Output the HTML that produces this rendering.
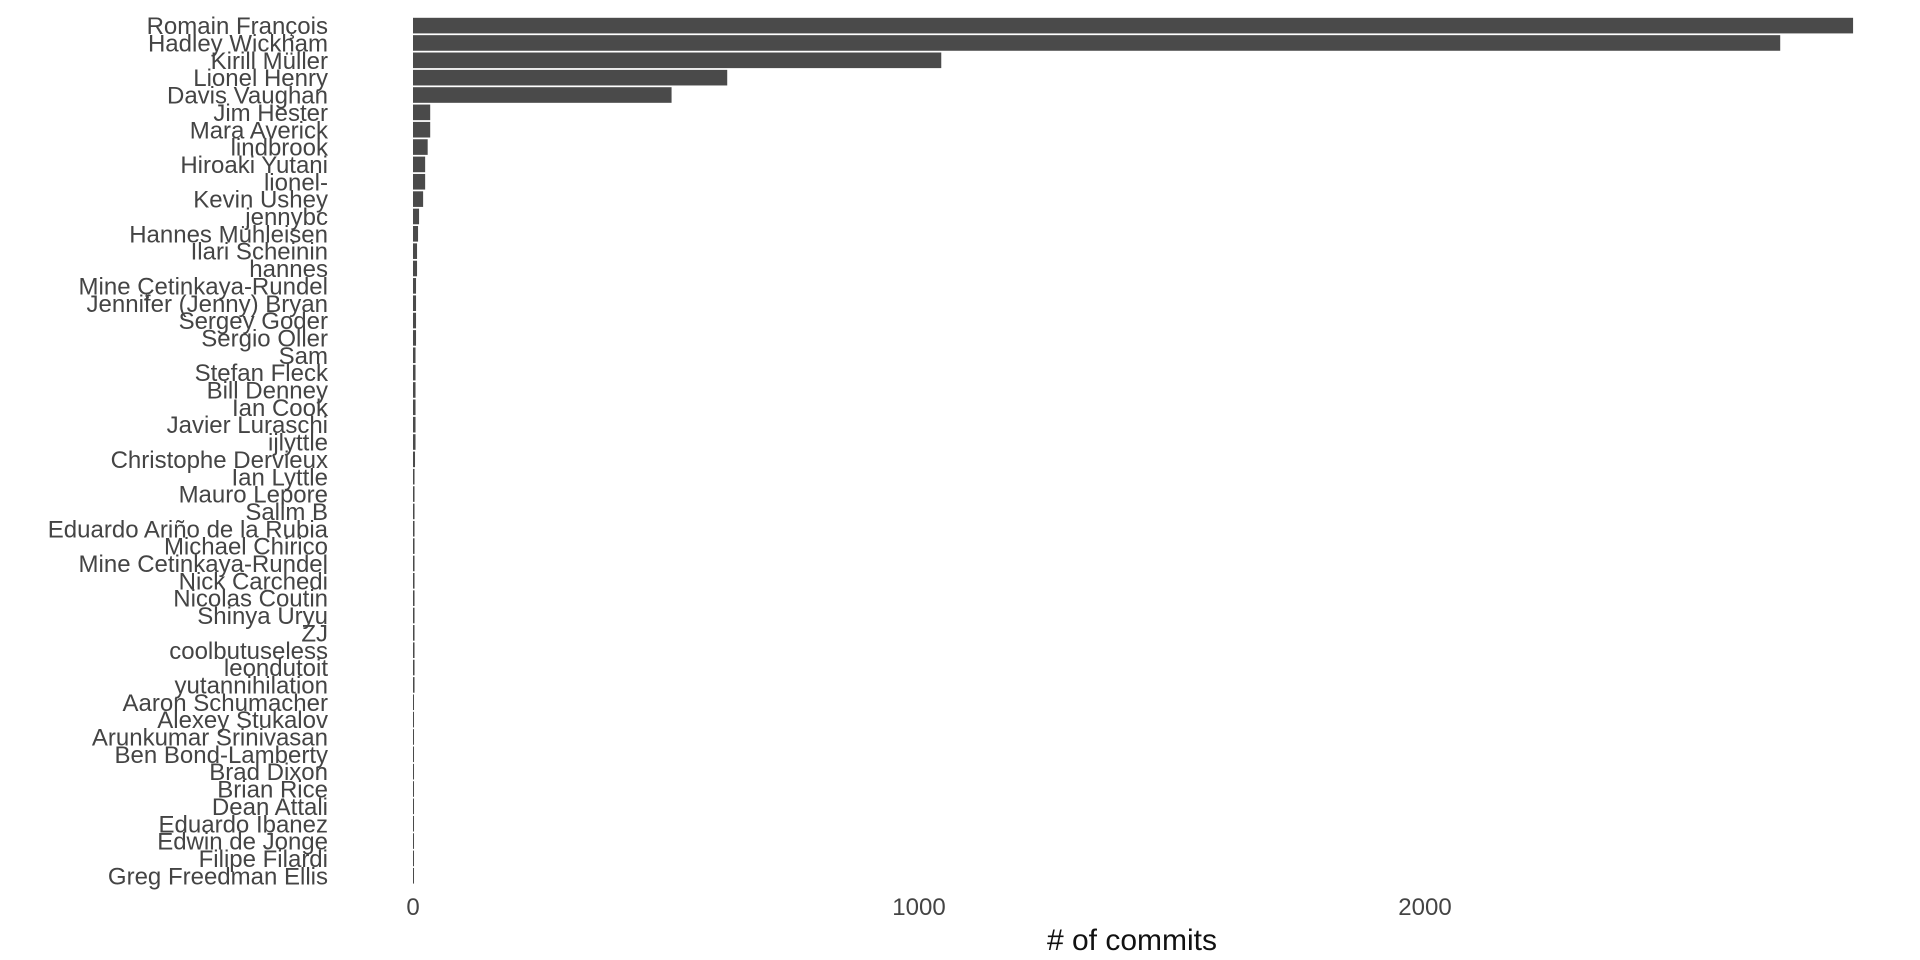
<!DOCTYPE html>
<html><head><meta charset="utf-8"><style>
html,body{margin:0;padding:0;background:#fff;}
svg{display:block;font-family:"Liberation Sans",sans-serif;}
</style></head><body>
<svg id="chart" width="1920" height="960"></svg>
<script>
const contributors=["Romain François","Hadley Wickham","Kirill Müller","Lionel Henry","Davis Vaughan","Jim Hester","Mara Averick","lindbrook","Hiroaki Yutani","lionel-","Kevin Ushey","jennybc","Hannes Mühleisen","Ilari Scheinin","hannes","Mine Çetinkaya-Rundel","Jennifer (Jenny) Bryan","Sergey Goder","Sergio Oller","Sam","Stefan Fleck","Bill Denney","Ian Cook","Javier Luraschi","ijlyttle","Christophe Dervieux","Ian Lyttle","Mauro Lepore","Salim B","Eduardo Ariño de la Rubia","Michael Chirico","Mine Cetinkaya-Rundel","Nick Carchedi","Nicolas Coutin","Shinya Uryu","ZJ","coolbutuseless","leondutoit","yutannihilation","Aaron Schumacher","Alexey Stukalov","Arunkumar Srinivasan","Ben Bond-Lamberty","Brad Dixon","Brian Rice","Dean Attali","Eduardo Ibanez","Edwin de Jonge","Filipe Filardi","Greg Freedman Ellis"];
const commits=[2846,2702,1044,621,511,34,34,29,24,24,20,12,10,8,8,6,6,6,6,5,5,5,5,5,5,4,3,3,3,3,3,3,3,3,3,3,3,3,3,2,2,2,2,2,2,2,2,2,2,2];
const xTicks=[0,1000,2000];
const NS="http://www.w3.org/2000/svg";
const svg=document.getElementById('chart');
const x0=413, pxPer=0.506;
function xs(v){return x0+v*pxPer;}
const rowTop=17, rowH=17.35;
function ys(i){return rowTop+i*rowH;}
contributors.forEach((name,i)=>{
  const r=document.createElementNS(NS,'rect');
  r.setAttribute('x',xs(0));r.setAttribute('y',ys(i)+0.8);
  r.setAttribute('width',Math.max(1,xs(commits[i])-xs(0)));r.setAttribute('height',rowH*0.9);
  r.setAttribute('fill','#4a4a4a');
  
  
  svg.appendChild(r);
  const t=document.createElementNS(NS,'text');
  t.setAttribute('x',328);t.setAttribute('y',ys(i)+rowH/2+8.5);
  t.setAttribute('text-anchor','end');t.setAttribute('font-size','24');t.setAttribute('fill','#444');
  t.textContent=name;
  
  
  svg.appendChild(t);
});
xTicks.forEach(v=>{
  const t=document.createElementNS(NS,'text');
  t.setAttribute('x',xs(v));t.setAttribute('y',915);
  t.setAttribute('text-anchor','middle');t.setAttribute('font-size','24');t.setAttribute('fill','#444');
  t.textContent=v;
  
  
  svg.appendChild(t);
});
const title=document.createElementNS(NS,'text');
title.setAttribute('x',1132);title.setAttribute('y',950);
title.setAttribute('text-anchor','middle');title.setAttribute('font-size','30');title.setAttribute('fill','#111');
title.textContent='# of commits';


svg.appendChild(title);
</script>
</body></html>
